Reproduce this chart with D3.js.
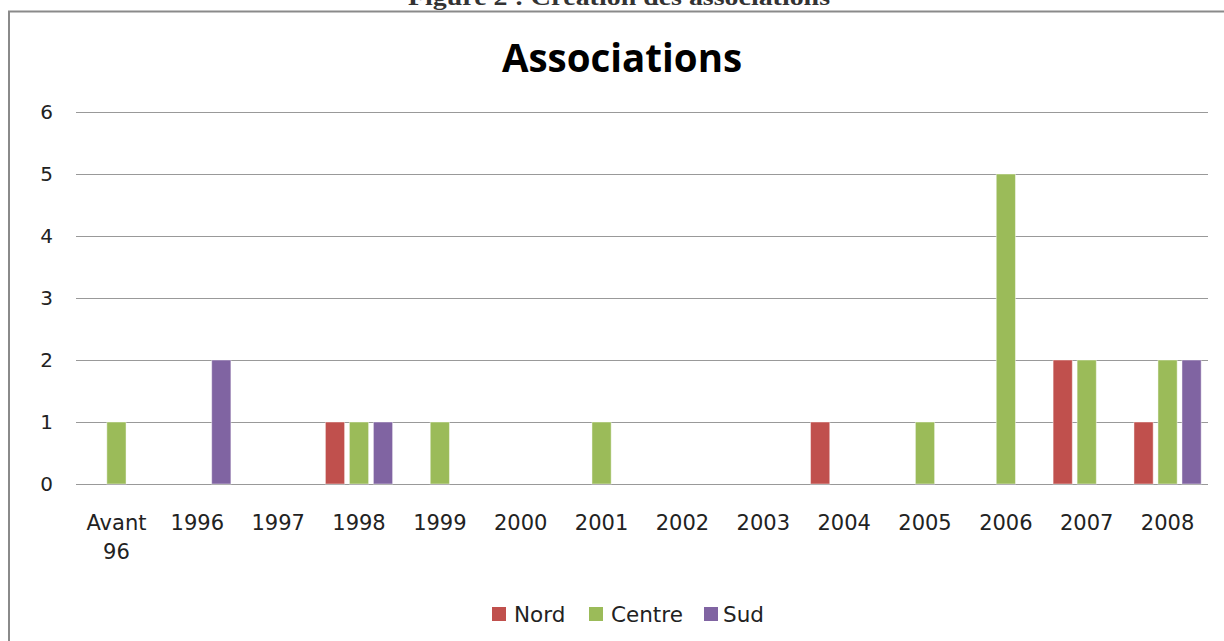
<!DOCTYPE html>
<html><head><meta charset="utf-8">
<script src="https://cdn.jsdelivr.net/npm/d3@7"></script>
<style>
html,body{margin:0;padding:0;background:#fff;}
svg{display:block;}
</style></head>
<body>
<svg id="chart" width="1224" height="641"></svg>
<script>
const categories = ["Avant 96","1996","1997","1998","1999","2000","2001","2002","2003","2004","2005","2006","2007","2008"];
const seriesNames = ["Nord","Centre","Sud"];
const nord   = [0,0,0,1,0,0,0,0,0,1,0,0,2,1];
const centre = [1,0,0,1,1,0,1,0,0,0,1,5,2,2];
const sud    = [0,2,0,1,0,0,0,0,0,0,0,0,0,2];
const yTicks = [0,1,2,3,4,5,6];
const colors = ["#C0504D","#9BBB59","#8064A2"];
const titleText = "Associations";
const captionText = "Figure 2 : Création des associations";

const seriesValues = [nord, centre, sud];
const svg = d3.select("#chart");
const W = 1224, H = 641;
const plot = {left:76, right:1208, top:112, bottom:484};

// caption (cropped at top, as in the reference)
svg.append("text").attr("x",619).attr("y",5)
  .attr("text-anchor","middle")
  .attr("font-family","'Liberation Serif','DejaVu Serif',serif")
  .attr("font-weight","bold").attr("font-size",24).attr("fill","#333")
  .attr("textLength",422).attr("lengthAdjust","spacingAndGlyphs")
  .text(captionText);

// frame
svg.append("path").attr("d",`M9,${H} L9,11.5 L${W},11.5`)
  .attr("fill","none").attr("stroke","#8a8a8a").attr("stroke-width",2);

// title
svg.append("text").attr("x",622).attr("y",72)
  .attr("text-anchor","middle")
  .attr("font-family","'Open Sans',sans-serif").attr("font-weight","bold")
  .attr("font-size",38.5).attr("fill","#000").text(titleText);

const x = d3.scaleBand().domain(categories).range([plot.left,plot.right]).padding(0);
const groupW = 67.2;
const x1 = d3.scaleBand().domain(seriesNames).range([0,groupW]).paddingInner(0.2).paddingOuter(0);
const y = d3.scaleLinear().domain([0,6]).range([plot.bottom,plot.top]);

// y axis + gridlines
const yAxis = d3.axisLeft(y).tickValues(yTicks).tickFormat(d3.format("d"))
  .tickSize(-(plot.right-plot.left)).tickPadding(23);
const gy = svg.append("g").attr("transform",`translate(${plot.left},0)`).call(yAxis);
gy.select(".domain").remove();
gy.selectAll(".tick line").attr("stroke","#999").attr("stroke-width",1.2);
gy.selectAll(".tick text").attr("font-family","'DejaVu Sans',sans-serif")
  .attr("font-size",20).attr("fill","#222");

// bars
const data = [];
categories.forEach((c,i)=>seriesNames.forEach((s,j)=>{
  data.push({cat:c, series:s, value:seriesValues[j][i], color:colors[j]});
}));
svg.append("g").selectAll("rect").data(data.filter(d=>d.value>0)).join("rect")
  .attr("x",d=>x(d.cat)+x.bandwidth()/2-groupW/2+x1(d.series))
  .attr("width",x1.bandwidth())
  .attr("y",d=>y(d.value))
  .attr("height",d=>y(0)-y(d.value))
  .attr("fill",d=>d.color)
  .attr("stroke","rgba(255,255,255,0.45)").attr("stroke-width",1);

// x axis labels
const xAxis = d3.axisBottom(x).tickSize(0).tickPadding(0);
const gx = svg.append("g").attr("transform",`translate(0,${plot.bottom})`).call(xAxis);
gx.select(".domain").remove();
gx.selectAll(".tick text").each(function(d){
  const t = d3.select(this);
  const parts = d.split(" ");
  t.text(null).attr("y",46).attr("dy",0)
    .attr("font-family","'DejaVu Sans',sans-serif").attr("font-size",21).attr("fill","#222");
  parts.forEach((p,k)=>t.append("tspan").attr("x",0).attr("y",46+k*29).text(p));
});

// legend
const legendItems = [{name:"Nord",sx:492,tx:514},{name:"Centre",sx:589,tx:611},{name:"Sud",sx:704,tx:723}];
const lg = svg.append("g");
legendItems.forEach((it,i)=>{
  lg.append("rect").attr("x",it.sx).attr("y",607).attr("width",14).attr("height",14).attr("fill",colors[i]);
  lg.append("text").attr("x",it.tx).attr("y",622)
    .attr("font-family","'DejaVu Sans',sans-serif").attr("font-size",21.5).attr("fill","#222").text(it.name);
});
</script>
</body></html>
